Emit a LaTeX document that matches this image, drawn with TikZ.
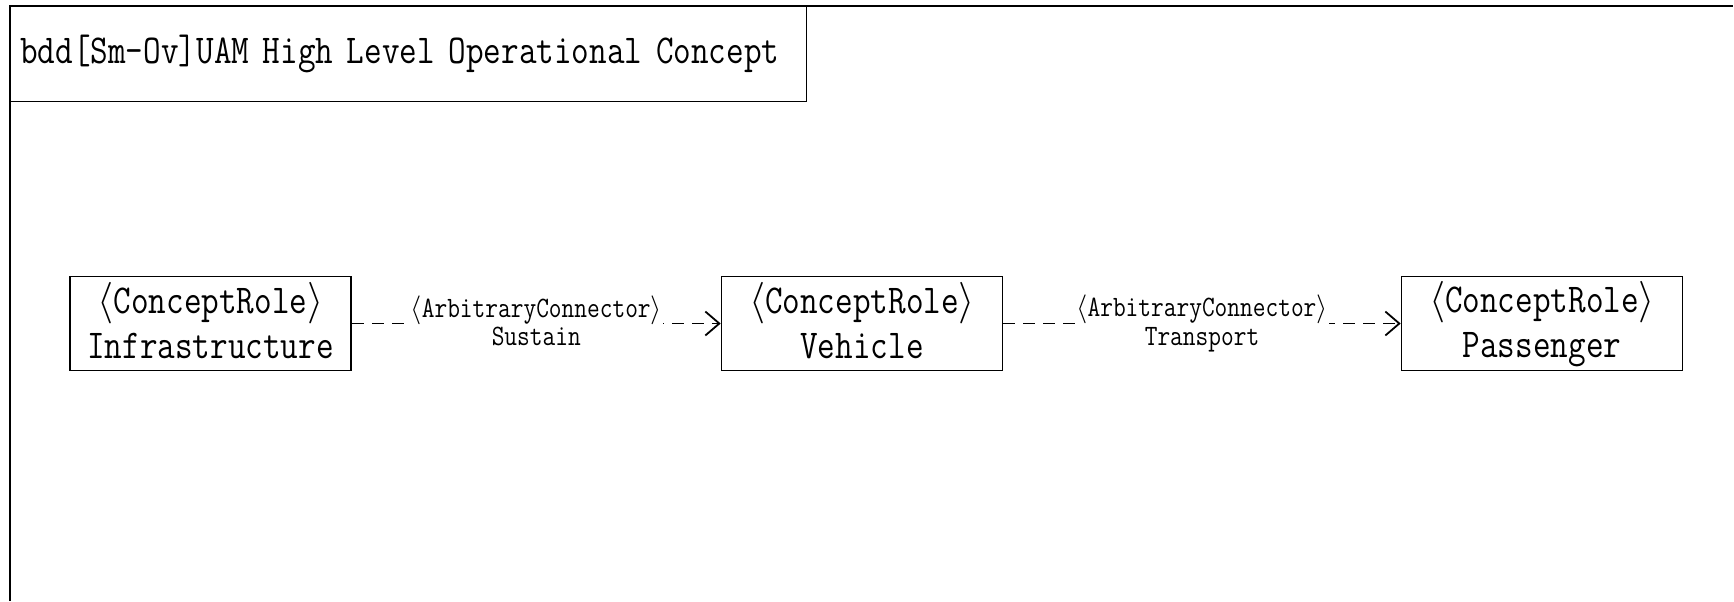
\documentclass[tikz,border=0pt]{standalone}
\usepackage{fontspec}
\setmainfont[FakeStretch=0.834]{Latin Modern Mono}
\usetikzlibrary{arrows.meta}
\newcommand{\lab}{\kern0.05em$\langle$}
\newcommand{\rab}{$\rangle$\kern0.05em}
\newcommand{\bs}{\rule[-3.5pt]{0pt}{19.5pt}}
\newcommand{\ls}{\rule[-2.75pt]{0pt}{13.25pt}}
\begin{document}
\begin{tikzpicture}[x=0.5pt,y=-0.5pt,
  role/.style={draw, line width=0.8pt, minimum width=140.5pt, minimum height=47pt, inner sep=0pt, align=center, font=\fontsize{20.5}{21}\selectfont},
  conn/.style={line width=0.9pt, dash pattern=on 6pt off 4pt, -{Straight Barb[length=7pt,width=12pt,line width=0.9pt]}},
  lbl/.style={fill=white, inner sep=0pt, align=center, font=\fontsize{14.8}{14.25}\selectfont},
  frame/.style={line width=1pt}]
\useasboundingbox (0,0) rectangle (1734,601);
\draw[frame] (9.5,601) -- (9.5,5.5) -- (1733,5.5);
\node[draw, line width=0.8pt, anchor=north west, minimum width=398pt, minimum height=47.5pt, inner xsep=5pt, inner ysep=0pt, text width=388pt, align=left, font=\fontsize{20.5}{21}\selectfont] (title) at (9.5,5.5) {bdd[Sm-Ov]UAM High Level Operational Concept};
\node[role] (infra) at (210.5,323.5) {\bs\lab ConceptRole\rab\\\bs Infrastructure};
\node[role] (veh) at (862,323.5) {\bs\lab ConceptRole\rab\\\bs Vehicle};
\node[role] (pass) at (1542,323.5) {\bs\lab ConceptRole\rab\\\bs Passenger};
\draw[conn] (infra) -- node[lbl] {\ls\lab ArbitraryConnector\rab\\\ls Sustain} (veh);
\draw[conn] (veh) -- node[lbl] {\ls\lab ArbitraryConnector\rab\\\ls Transport} (pass);
\end{tikzpicture}
\end{document}
